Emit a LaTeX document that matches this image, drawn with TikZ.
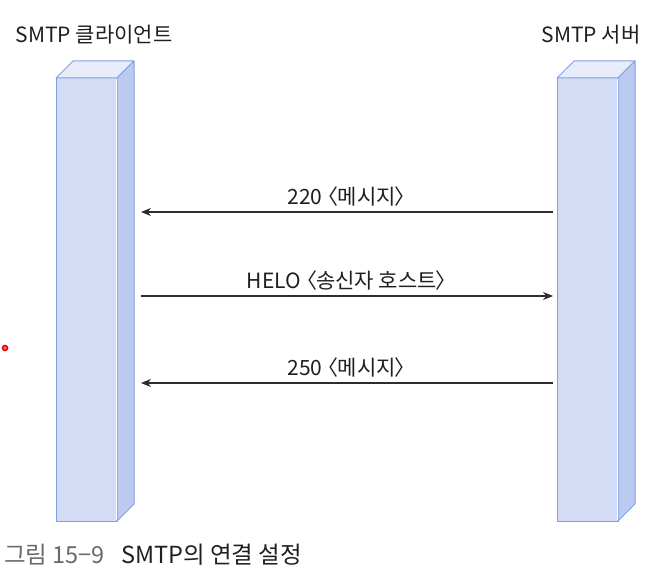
\documentclass[tikz,border=0pt]{standalone}
\usepackage{fontspec}
\setmainfont{Noto Sans CJK KR}
\usetikzlibrary{positioning,arrows.meta}
\definecolor{barfront}{RGB}{211,219,245}
\definecolor{barside}{RGB}{186,202,240}
\definecolor{bartop}{RGB}{232,236,250}
\definecolor{barline}{RGB}{128,160,226}
\definecolor{msgline}{RGB}{45,45,45}
\definecolor{textdark}{RGB}{30,30,35}
\definecolor{capgray}{RGB}{105,105,105}
\newcommand{\lbr}{\kern-0.45em〈\kern-0.05em}
\newcommand{\rbr}{\kern-0.05em〉\kern-0.45em}

\begin{document}
\begin{tikzpicture}[x=1pt,y=-1pt,
                    bar face/.style={fill=barfront,draw=barline,line width=1pt,
                                     minimum width=61pt,minimum height=443pt,
                                     anchor=north west,inner sep=0pt,outer sep=0pt},
                    bar top/.style={fill=bartop,draw=barline,line width=1pt,line join=round},
                    bar side/.style={fill=barside,draw=barline,line width=1pt,line join=round},
                    msg/.style={-{Stealth[length=10pt,width=8pt]},line width=1.2pt,draw=msgline},
                    lbl/.style={font=\fontsize{21}{24}\selectfont,text=textdark,inner sep=2pt}
                   ]
   \useasboundingbox (0,0) rectangle (657,586);

   % host bars
   \node[bar face] (cli) at (56,78) {};
   \node[bar face] (srv) at (557,78) {};
   \foreach \b in {cli,srv}{
     \draw[bar top] (\b.north west) -- ++(17,-17) -- ++(61,0) -- (\b.north east) -- cycle;
     \draw[bar side] (\b.north east) -- ++(17,-17) -- ++(0,443) -- (\b.south east) -- cycle;
     \draw[white,line width=0.8pt] ([xshift=-1pt,yshift=-1pt]\b.north east) -- ([xshift=-1pt,yshift=1pt]\b.south east);
   }

   % titles
   \node[lbl] (cliname) at (94,35) {SMTP 클라이언트};
   \node[lbl] (srvname) at (591,35) {SMTP 서버};

   % messages
   \coordinate (s1) at (553,212);  \coordinate (c1) at (141,212);
   \coordinate (c2) at (141,296);  \coordinate (s2) at (553,296);
   \coordinate (s3) at (553,383);  \coordinate (c3) at (141,383);

   \path%
    (s1) edge [msg] node[lbl,above=3pt] {220 \lbr 메시지\rbr} (c1)
    (c2) edge [msg] node[lbl,above=3pt] {HELO \lbr 송신자 호스트\rbr} (s2)
    (s3) edge [msg] node[lbl,above=3pt] {250 \lbr 메시지\rbr} (c3);

   % marker dot
   \filldraw[fill=red!55,draw=red!90!black,line width=1.5pt] (5,348) circle (2.5pt);

   % caption
   \node[anchor=west,inner sep=0pt,font=\fontsize{23.5}{26}\selectfont] (cap) at (4,555)
     {\textcolor{capgray}{그림 15−9}\hspace{0.7em}\textcolor{textdark}{SMTP의 연결 설정}};
\end{tikzpicture}
\end{document}
